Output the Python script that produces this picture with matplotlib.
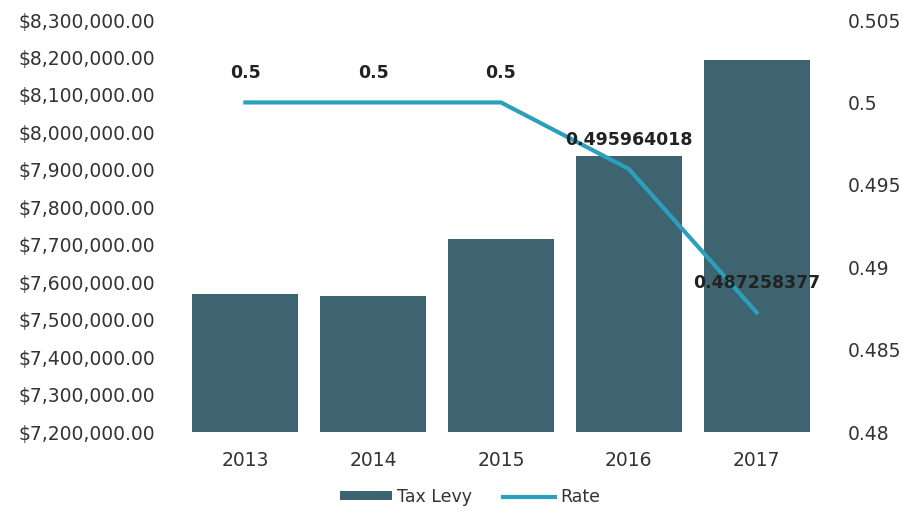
import matplotlib; matplotlib.use("Agg")
import matplotlib.pyplot as plt
from matplotlib.ticker import FuncFormatter

plt.rcParams.update({"font.family": ["DejaVu Sans"], "font.size": 13.5})

years = ["2013", "2014", "2015", "2016", "2017"]
tax_levy = [7568500, 7563000, 7715000, 7937000, 8193000]
rate = [0.5, 0.5, 0.5, 0.495964018, 0.487258377]
rate_labels = ["0.5", "0.5", "0.5", "0.495964018", "0.487258377"]

BAR = "#3d6470"
LINE = "#2b9fbb"
TXT = "#333333"

fig = plt.figure(figsize=(9.04, 5.14), dpi=100)
ax = fig.add_axes([0.2008, 0.1595, 0.7068, 0.8015])
x = range(len(years))
bars = ax.bar(x, tax_levy, width=0.83, color=BAR, label="Tax Levy", zorder=2)
ax.set_ylim(7200000, 8300000)
ax.set_yticks([7200000 + 100000 * i for i in range(12)])
ax.yaxis.set_major_formatter(FuncFormatter(lambda v, p: f"${v:,.2f}"))
ax.set_xlim(-0.5, 4.5)
ax.set_xticks(list(x), years)

ax2 = ax.twinx()
line, = ax2.plot(x, rate, color=LINE, lw=3, label="Rate", zorder=3)
ax2.set_ylim(0.48, 0.505)
ax2.set_yticks([0.48, 0.485, 0.49, 0.495, 0.5, 0.505])
ax2.set_yticklabels(["0.48", "0.485", "0.49", "0.495", "0.5", "0.505"])
for i, (r, lab) in enumerate(zip(rate, rate_labels)):
    ax2.annotate(lab, (i, r), xytext=(0, 21), textcoords="offset points",
                 ha="center", va="center", fontsize=12.5, fontweight="bold", color="#222222")

for a in (ax, ax2):
    for s in a.spines.values():
        s.set_visible(False)
    a.tick_params(length=0, colors=TXT, labelsize=13.5)
ax.tick_params(axis="y", pad=19)
ax.tick_params(axis="x", pad=14)
ax2.tick_params(axis="y", pad=20)

fig.legend([bars, line], ["Tax Levy", "Rate"], loc="lower center", bbox_to_anchor=(0.52, -0.015),
           ncol=2, frameon=False, handlelength=3.0, handleheight=0.4, handletextpad=0.3,
           columnspacing=1.8, fontsize=12.5, labelcolor=TXT)

fig.savefig("out.png", dpi=100)
